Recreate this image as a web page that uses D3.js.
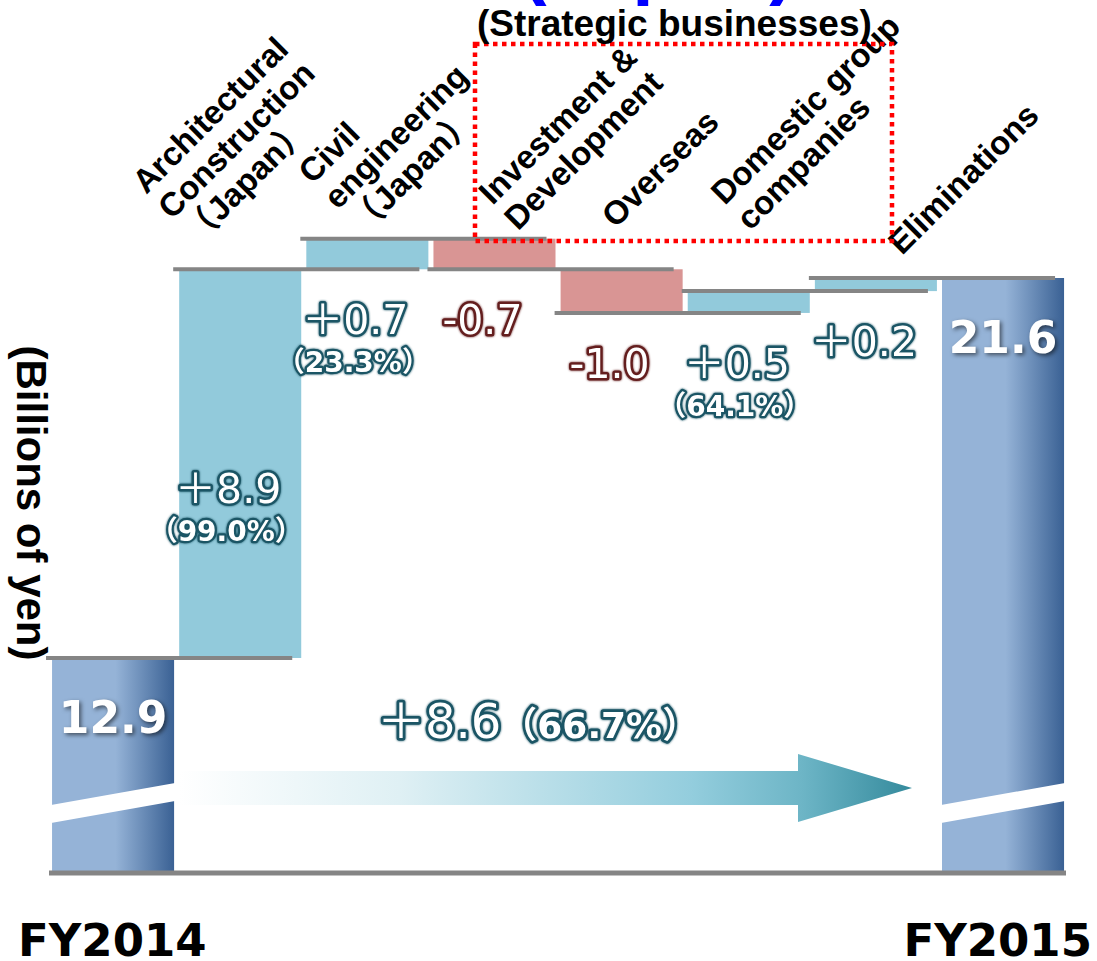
<!DOCTYPE html>
<html>
<head>
<meta charset="utf-8">
<script src="https://cdn.jsdelivr.net/npm/d3@7"></script>
<style>
  body { margin: 0; background: #fff; }
  svg { display: block; }
</style>
</head>
<body>
<div id="chart"></div>
<script>
// data
const categories = ["FY2014", "Architectural Construction (Japan)", "Civil engineering (Japan)",
    "Investment & Development", "Overseas", "Domestic group companies", "Eliminations", "FY2015"];
const categoryLines = [[], ["Architectural", "Construction", "（Japan）"], ["Civil", "engineering", "（Japan）"],
    ["Investment &", "Development"], ["Overseas"], ["Domestic group", "companies"], ["Eliminations"], []];
const startValue = 12.9;
const endValue = 21.6;
const deltas = [8.9, 0.7, -0.7, -1.0, 0.5, 0.3];
const deltaLabels = ["＋8.9", "＋0.7", "-0.7", "-1.0", "＋0.5", "＋0.2"];
const pctLabels = ["（99.0%）", "（23.3%）", "", "", "（64.1%）", ""];
const totalChange = "＋8.6";
const totalPct = "（66.7%）";
const axisFloor = 8.0; // axis is broken, bars start here

const W = 1097, H = 961;
const baseY = 872;

const svg = d3.select("#chart").append("svg")
    .attr("width", W)
    .attr("height", H);

const defs = svg.append("defs");

const totGrad = defs.append("linearGradient").attr("id", "totGrad");
totGrad.append("stop").attr("offset", "0%").attr("stop-color", "#95b3d7");
totGrad.append("stop").attr("offset", "52%").attr("stop-color", "#95b3d7");
totGrad.append("stop").attr("offset", "100%").attr("stop-color", "#3a6194");

const x = d3.scaleBand()
    .domain(categories)
    .range([49.5, 1066.6])
    .paddingInner(0.04)
    .paddingOuter(0.02);
const bw = x.bandwidth();

const y = d3.scaleLinear()
    .domain([axisFloor, endValue])
    .range([baseY, 278]);

// running levels for the waterfall
let steps = [];
let level = startValue;
deltas.forEach((d, i) => {
    steps.push({ cat: categories[i + 1], from: level, to: level + d, delta: d,
                 label: deltaLabels[i], pct: pctLabels[i], lines: categoryLines[i + 1] });
    level += d;
});
const levels = [startValue].concat(steps.map(s => s.to));

// big arrow under the chart
const arrowX0 = x(categories[1]);
const arrowX1 = x(categories[7]) - 30;
const arrowY = 788;
const arrGrad = defs.append("linearGradient").attr("id", "arrGrad")
    .attr("gradientUnits", "userSpaceOnUse")
    .attr("x1", arrowX0).attr("x2", arrowX1).attr("y1", 0).attr("y2", 0);
[[0, "#ffffff"], [0.3, "#dff0f4"], [0.7, "#93cddd"], [0.85, "#6db5c6"], [1, "#348a9c"]]
    .forEach(s => arrGrad.append("stop").attr("offset", s[0]).attr("stop-color", s[1]));

const headW = 114;
svg.append("path")
    .attr("d", `M${arrowX0},${arrowY - 17} L${arrowX1 - headW},${arrowY - 17} L${arrowX1 - headW},${arrowY - 34}
                L${arrowX1},${arrowY} L${arrowX1 - headW},${arrowY + 34} L${arrowX1 - headW},${arrowY + 17}
                L${arrowX0},${arrowY + 17} Z`)
    .attr("fill", "url(#arrGrad)");

// total bars
const totals = [{ cat: categories[0], v: startValue }, { cat: categories[7], v: endValue }];
svg.selectAll(".total")
    .data(totals)
    .enter().append("rect")
    .attr("class", "total")
    .attr("x", d => x(d.cat))
    .attr("y", d => y(d.v))
    .attr("width", bw)
    .attr("height", d => baseY - y(d.v))
    .attr("fill", "url(#totGrad)");

// axis break bands
svg.selectAll(".brk")
    .data(totals)
    .enter().append("polygon")
    .attr("class", "brk")
    .attr("points", d => {
        const a = x(d.cat) - 1, b = x(d.cat) + bw + 1;
        return `${a},805 ${b},783 ${b},801 ${a},823`;
    })
    .attr("fill", "#fff");

// step bars
svg.selectAll(".step")
    .data(steps)
    .enter().append("rect")
    .attr("class", "step")
    .attr("x", d => x(d.cat))
    .attr("y", d => y(Math.max(d.from, d.to)))
    .attr("width", bw)
    .attr("height", d => Math.abs(y(d.from) - y(d.to)))
    .attr("fill", d => d.delta >= 0 ? "#92cadb" : "#d99594");

// connector lines
svg.selectAll(".conn")
    .data(levels)
    .enter().append("line")
    .attr("class", "conn")
    .attr("x1", (d, i) => x(categories[i]) - 6)
    .attr("x2", (d, i) => x(categories[i + 1]) + bw - 9)
    .attr("y1", d => y(d))
    .attr("y2", d => y(d))
    .attr("stroke", "#858585")
    .attr("stroke-width", 4);

// base line
svg.append("line")
    .attr("x1", 49).attr("x2", 1066)
    .attr("y1", baseY + 1).attr("y2", baseY + 1)
    .attr("stroke", "#858585")
    .attr("stroke-width", 5);

// outlined value texts
function outlined(sel, col, sw) {
    sel.attr("fill", "#fff")
        .attr("stroke", col)
        .attr("stroke-width", sw || 5)
        .attr("stroke-linejoin", "round")
        .attr("paint-order", "stroke")
        .style("filter", `drop-shadow(0 0 1.2px ${col})`);
}
const numFont = "'DejaVu Sans', 'Noto Sans CJK JP', sans-serif";

steps.forEach(s => {
    const top = y(Math.max(s.from, s.to)), bot = y(Math.min(s.from, s.to));
    const inside = (bot - top) > 200;
    const by = inside ? (top + bot) / 2 + 39 : bot + 65;
    const cx = x(s.cat) + bw / 2 - 12;
    const col = s.delta >= 0 ? "#1b5565" : "#641e1e";
    svg.append("text")
        .attr("x", cx).attr("y", by)
        .attr("text-anchor", "middle")
        .style("font-family", numFont)
        .style("font-size", "41px")
        .text(s.label)
        .call(outlined, col, 5);
    if (s.pct) {
        svg.append("text")
            .attr("x", cx - 2).attr("y", by + 38)
            .attr("text-anchor", "middle")
            .style("font-family", numFont)
            .style("font-size", "28px")
            .style("font-weight", "bold")
            .text(s.pct)
            .call(outlined, col, 4.5);
    }
});

// total change over the arrow
const chg = svg.append("text")
    .attr("x", (arrowX0 + arrowX1) / 2 - 8)
    .attr("y", 738)
    .attr("text-anchor", "middle")
    .style("font-family", numFont);
chg.append("tspan").style("font-size", "48px").text(totalChange);
chg.append("tspan").style("font-size", "36px").style("font-weight", "bold").text(totalPct);
chg.call(outlined, "#1b5565", 5.5);

// total values
svg.selectAll(".totLbl")
    .data(totals)
    .enter().append("text")
    .attr("class", "totLbl")
    .attr("x", d => x(d.cat) + bw / 2)
    .attr("y", d => y(d.v) + 75)
    .attr("text-anchor", "middle")
    .style("font-family", "'DejaVu Sans', sans-serif")
    .style("font-weight", "bold")
    .style("font-size", "44px")
    .attr("fill", "#fff")
    .style("filter", "drop-shadow(2px 2px 2px rgba(0,0,0,0.55))")
    .text(d => d.v.toFixed(1));

// year labels
svg.append("text")
    .attr("x", 18).attr("y", 956)
    .style("font-family", "'DejaVu Sans', sans-serif")
    .style("font-weight", "bold")
    .style("font-size", "45px")
    .text(categories[0]);
svg.append("text")
    .attr("x", 1092).attr("y", 956)
    .attr("text-anchor", "end")
    .style("font-family", "'DejaVu Sans', sans-serif")
    .style("font-weight", "bold")
    .style("font-size", "45px")
    .text(categories[7]);

// rotated category labels (offset from band centre, first-line baseline start)
const labelOffset = [null, [-94, 195], [-55, 185], [-2, 206], [-6, 229], [-24, 206], [26, 256], null];
const labFont = "'Liberation Sans', Arial, 'Noto Sans CJK JP', sans-serif";
steps.forEach((s, i) => {
    const off = labelOffset[i + 1];
    const g = svg.append("g")
        .attr("transform", `translate(${x(s.cat) + bw / 2 + off[0]},${off[1]}) rotate(-45)`);
    const t = g.append("text")
        .style("font-family", labFont)
        .style("font-weight", "bold")
        .style("font-size", "33px");
    s.lines.forEach((ln, j) => {
        t.append("tspan").attr("x", 0).attr("dy", j === 0 ? 0 : 36).text(ln);
    });
});

// y axis title
svg.append("text")
    .attr("transform", "translate(17,503) rotate(90)")
    .attr("text-anchor", "middle")
    .style("font-family", labFont)
    .style("font-weight", "bold")
    .style("font-size", "42px")
    .text("(Billions of yen)");

// strategic businesses box
svg.append("rect")
    .attr("x", 475).attr("y", 44)
    .attr("width", 417).attr("height", 197)
    .attr("fill", "none")
    .attr("stroke", "#ff0000")
    .attr("stroke-width", 4.5)
    .attr("stroke-dasharray", "4.5,4.5");

svg.append("text")
    .attr("x", 477).attr("y", 36)
    .style("font-family", labFont)
    .style("font-weight", "bold")
    .style("font-size", "37px")
    .text("(Strategic businesses)");

// title mostly cut off at the top edge
svg.append("text")
    .attr("x", 521).attr("y", -10)
    .style("font-family", labFont)
    .style("font-weight", "bold")
    .style("font-size", "77px")
    .attr("fill", "#0000ff")
    .text("(Japan)");
</script>
</body>
</html>
